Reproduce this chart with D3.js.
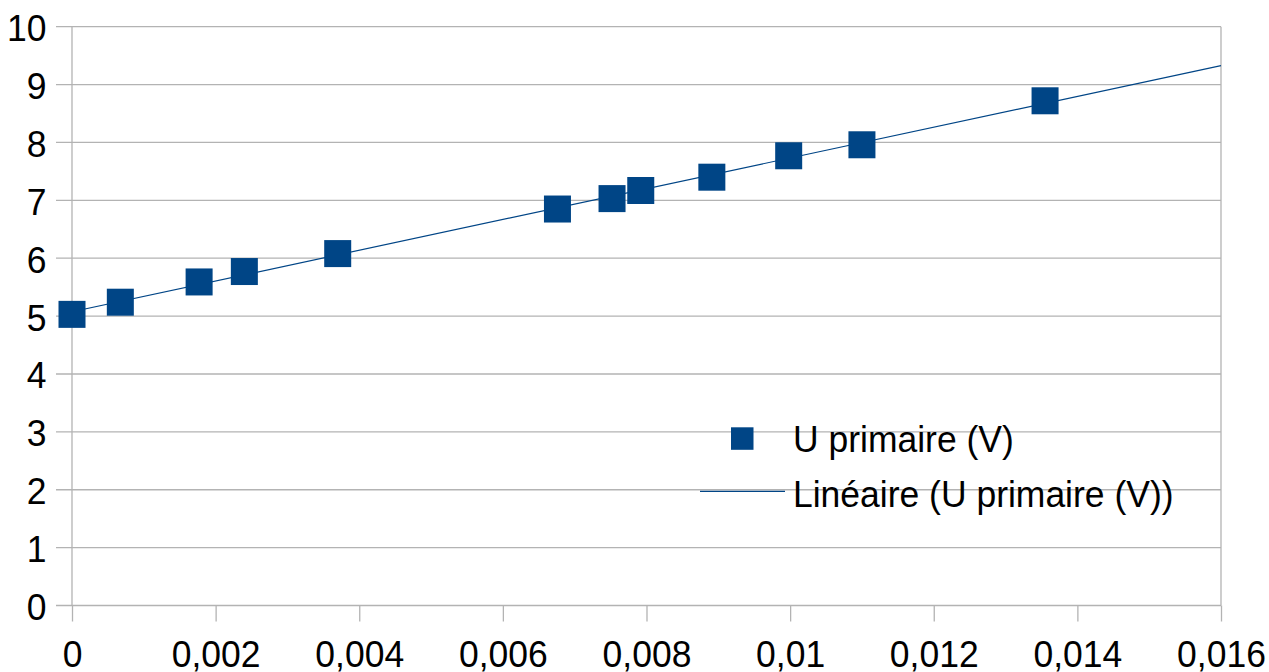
<!DOCTYPE html>
<html>
<head>
<meta charset="utf-8">
<script src="https://cdn.jsdelivr.net/npm/d3@7"></script>
<style>
  html, body { margin: 0; padding: 0; background: #fff; }
  svg { display: block; font-family: "Liberation Sans", Arial, sans-serif; }
</style>
</head>
<body>
<svg id="chart" width="1269" height="672"></svg>
<script>
// Primary voltage measurements (x: current in A, y: U primaire in V)
const xValues = [0, 0.000673, 0.00177, 0.0024, 0.0037, 0.00676, 0.00752, 0.00792, 0.00891, 0.00998, 0.0110, 0.01355];
const yValues = [5.03, 5.24, 5.59, 5.77, 6.08, 6.85, 7.03, 7.17, 7.40, 7.77, 7.96, 8.72];
const xTicks = [0, 0.002, 0.004, 0.006, 0.008, 0.01, 0.012, 0.014, 0.016];
const yTicks = [0, 1, 2, 3, 4, 5, 6, 7, 8, 9, 10];
const seriesName = "U primaire (V)";
const trendName = "Linéaire (U primaire (V))";

const BLUE = "#004586";
const GRID = "#b3b3b3";
const FONT = 35.5;
const VSTRETCH = 1.055;

const svg = d3.select("#chart");
const plotLeft = 72, plotRight = 1221, plotTop = 26.7, plotBottom = 605.5;

const x = d3.scaleLinear().domain([0, 0.016]).range([plotLeft, plotRight]);
const y = d3.scaleLinear().domain([0, 10]).range([plotBottom, plotTop]);

const locale = d3.formatLocale({ decimal: ",", thousands: " ", grouping: [3], currency: ["", " €"] });
const fmt = locale.format("~g");

// Horizontal gridlines (extend left as tick marks)
svg.append("g").selectAll("line").data(yTicks).join("line")
  .attr("x1", plotLeft - 16).attr("x2", plotRight)
  .attr("y1", d => y(d)).attr("y2", d => y(d))
  .attr("stroke", GRID).attr("stroke-width", 1.3);

// Left axis line and right border
[plotLeft, plotRight].forEach(px => {
  svg.append("line").attr("x1", px).attr("x2", px).attr("y1", plotTop).attr("y2", plotBottom)
    .attr("stroke", GRID).attr("stroke-width", 1.3);
});

// Bottom axis ticks and labels
const xAxis = svg.append("g").attr("transform", `translate(0,${plotBottom})`)
  .call(d3.axisBottom(x).tickValues(xTicks).tickSize(16).tickSizeOuter(0).tickFormat(fmt));
xAxis.select(".domain").remove();
xAxis.selectAll(".tick line").attr("stroke", GRID).attr("stroke-width", 1.3);
xAxis.selectAll(".tick text")
  .attr("y", null).attr("dy", null)
  .attr("transform", `translate(0,61.5) scale(1,${VSTRETCH})`)
  .attr("fill", "#000").style("font-size", FONT + "px")
  .style("font-family", "'Liberation Sans', Arial, sans-serif");

// Left axis labels
const yAxis = svg.append("g").attr("transform", `translate(${plotLeft},0)`)
  .call(d3.axisLeft(y).tickValues(yTicks).tickSize(0).tickFormat(d3.format("d")));
yAxis.select(".domain").remove();
yAxis.selectAll(".tick text")
  .attr("x", null).attr("dy", null)
  .attr("transform", `translate(-25.5,14) scale(1,${VSTRETCH})`)
  .attr("text-anchor", "end")
  .attr("fill", "#000").style("font-size", FONT + "px")
  .style("font-family", "'Liberation Sans', Arial, sans-serif");

// Linear regression trend line over the full x domain
const n = xValues.length;
const mx = d3.mean(xValues), my = d3.mean(yValues);
let sxy = 0, sxx = 0;
for (let i = 0; i < n; i++) {
  sxy += (xValues[i] - mx) * (yValues[i] - my);
  sxx += (xValues[i] - mx) ** 2;
}
const slope = sxy / sxx;
const intercept = my - slope * mx;
svg.append("path")
  .datum(x.domain().map(v => [v, intercept + slope * v]))
  .attr("d", d3.line().x(d => x(d[0])).y(d => y(d[1])))
  .attr("fill", "none").attr("stroke", BLUE).attr("stroke-width", 1.2);

// Square markers
const S = 27;
svg.append("g").selectAll("rect").data(d3.range(n)).join("rect")
  .attr("x", i => x(xValues[i]) - S / 2)
  .attr("y", i => y(yValues[i]) - S / 2)
  .attr("width", S).attr("height", S)
  .attr("fill", BLUE);

// Legend
const legend = svg.append("g");
legend.append("rect").attr("x", 731).attr("y", 427.3).attr("width", 22.5).attr("height", 22.5).attr("fill", BLUE);
legend.append("line").attr("x1", 700).attr("x2", 785).attr("y1", 491.3).attr("y2", 491.3)
  .attr("stroke", BLUE).attr("stroke-width", 1.2);
[[seriesName, 451.7], [trendName, 506.7]].forEach(([label, by]) => {
  legend.append("text")
    .attr("transform", `translate(793,${by}) scale(1,${VSTRETCH})`)
    .attr("fill", "#000").style("font-size", FONT + "px")
    .text(label);
});
</script>
</body>
</html>
